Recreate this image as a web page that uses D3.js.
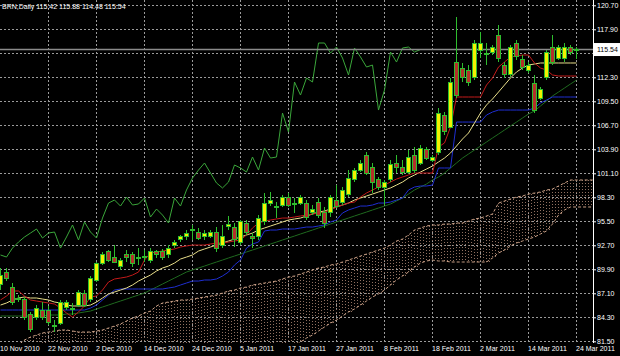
<!DOCTYPE html>
<html>
<head>
<meta charset="utf-8">
<script src="https://cdn.jsdelivr.net/npm/d3@7"></script>
<style>
body{margin:0;background:#000;}
svg{display:block;font-family:'Liberation Sans',Arial,sans-serif;}
</style>
</head>
<body>
<div class="box"></div>
<script>
// BRN daily, 10 Nov 2010 .. 24 Mar 2011 (97 bars), one bar per weekday
const title='BRN,Daily  115.42 115.88 114.48 115.54';
const tickIdx=[0,8,16,24,32,40,48,56,64,72,80,88,96];
const tickLabels=['10 Nov 2010','22 Nov 2010','2 Dec 2010','14 Dec 2010','24 Dec 2010','5 Jan 2011',
  '17 Jan 2011','27 Jan 2011','8 Feb 2011','18 Feb 2011','2 Mar 2011','14 Mar 2011','24 Mar 2011'];
const yTicks=[120.70,117.90,115.10,112.30,109.50,106.70,103.90,101.10,98.30,95.50,92.70,89.90,87.10,84.30,81.50];
const lastPrice=115.54;

const open=[88.07,89.58,87.83,86.43,86.32,84.57,84.22,85.15,85.15,83.40,
83.63,85.50,85.27,85.73,87.13,86.32,88.65,90.63,91.92,91.33,
90.17,91.57,91.57,91.22,91.33,90.98,91.92,91.92,91.57,92.73,
93.32,93.67,94.48,94.25,93.67,93.78,94.25,92.73,94.95,94.72,
92.97,95.30,93.67,93.67,95.42,97.63,97.17,97.40,98.22,97.63,
97.63,97.63,96.47,97.75,96.58,96.47,97.87,97.75,98.57,100.32,
101.48,103.23,101.83,100.32,99.50,100.32,102.30,101.83,101.25,103.23,
102.30,103.82,102.65,103.58,107.90,106.50,114.08,113.38,113.15,112.33,
115.48,115.02,115.25,117.23,113.73,112.57,116.30,114.32,113.15,111.63,
109.88,112.22,115.83,114.55,114.55,115.72,115.42];
const high=[90.05,90.05,88.30,86.90,86.67,84.92,85.73,86.08,85.62,83.98,
86.32,86.32,85.97,87.48,87.48,89.12,90.75,91.92,92.15,92.73,
91.22,92.15,91.92,92.38,92.15,92.38,92.15,92.27,92.73,93.32,
93.90,94.48,95.07,94.72,94.48,94.48,94.83,95.07,96.12,95.30,
95.65,95.65,94.13,96.23,98.80,98.92,97.75,98.57,98.80,98.22,
98.57,97.98,97.40,98.22,97.17,98.57,99.73,99.50,101.48,101.72,
102.65,103.58,102.30,100.67,100.32,102.65,103.23,102.65,103.82,104.17,
104.40,104.17,103.23,108.72,108.25,112.22,119.34,113.97,113.73,116.65,
117.58,116.30,116.07,118.40,114.08,116.07,116.65,114.90,114.08,112.57,
111.17,115.48,117.23,116.07,116.30,116.07,115.88];
const low=[87.48,88.53,85.73,86.08,83.98,82.58,83.98,83.98,83.40,82.58,
83.40,85.15,84.57,85.50,85.50,86.08,88.42,90.40,90.75,90.63,
89.82,90.75,90.17,90.40,90.75,90.63,91.22,90.98,91.22,92.38,
93.08,93.32,93.32,93.32,93.32,93.55,91.92,92.38,94.48,92.50,
92.73,93.90,92.38,93.32,95.07,97.28,95.88,97.17,97.17,96.47,
97.40,95.65,96.23,95.88,94.72,96.00,97.05,97.40,98.33,100.08,
101.25,100.90,98.80,99.15,97.40,100.08,101.13,100.90,101.02,101.13,
102.07,102.65,102.42,103.23,105.57,106.38,109.88,111.75,111.28,111.98,
114.55,113.73,114.90,114.08,112.22,112.33,114.32,113.15,112.80,108.13,
109.65,111.98,113.73,114.32,114.08,114.90,114.48];
const close=[89.23,88.77,86.08,86.55,84.33,82.82,85.27,84.33,83.75,83.28,
86.08,85.97,85.38,87.25,85.73,88.88,90.63,91.57,90.98,90.75,
90.98,91.22,90.63,91.33,91.45,91.92,91.57,91.33,92.38,93.08,
93.67,94.13,94.60,93.55,94.13,94.25,92.38,93.67,95.07,93.32,
95.42,94.25,93.55,95.88,97.63,97.98,97.28,98.33,97.40,97.52,
98.22,96.00,96.93,96.23,95.30,98.22,97.28,99.15,100.55,101.48,
102.30,101.13,99.97,99.39,100.08,102.07,101.72,101.25,103.00,101.48,
104.05,102.88,103.00,108.13,105.92,111.75,110.23,112.22,111.75,116.30,
116.30,115.13,115.83,114.55,112.57,115.72,114.67,113.50,113.73,108.48,
110.82,115.25,114.08,115.72,115.83,115.25,115.54];

// indicator lines, one value per bar
const tenkan=[86.32,86.78,87.37,87.37,86.78,86.32,86.20,86.08,85.97,85.85,
85.38,84.80,84.33,84.92,85.62,86.67,86.78,87.48,88.42,88.77,
88.88,89.00,89.23,89.58,90.98,91.80,91.92,92.03,92.15,92.27,
92.50,92.62,92.73,92.73,92.73,92.85,92.97,92.97,93.08,93.20,
93.32,93.90,94.72,95.30,95.53,95.65,95.77,95.88,95.88,96.00,
96.12,96.23,96.35,96.47,96.58,96.82,97.17,97.40,97.63,97.75,
98.33,98.80,99.15,99.50,99.73,100.08,100.43,100.67,100.90,101.13,
101.13,101.13,101.13,104.17,104.64,106.50,110.00,110.00,110.00,110.00,
110.00,111.40,112.22,113.50,114.08,114.67,114.78,114.90,114.90,113.97,
113.38,113.15,112.57,112.45,112.45,112.45,112.45];
const kijun=[85.15,85.15,85.15,85.15,85.15,85.15,85.15,85.15,85.15,85.15,
85.15,85.15,85.15,85.15,85.15,85.38,85.73,86.32,86.90,87.48,
87.60,87.60,87.60,87.60,87.60,87.60,87.60,87.60,87.72,87.83,
88.07,88.30,88.53,88.53,88.65,88.65,88.77,89.12,89.58,90.40,
90.98,92.38,92.85,93.08,94.37,94.48,94.48,94.60,94.60,94.60,
94.72,94.83,94.83,94.95,95.07,95.42,95.65,96.47,96.82,97.05,
97.28,97.28,97.40,97.63,97.63,97.75,97.98,98.22,99.15,99.50,
99.62,99.62,99.73,101.72,101.72,101.72,107.08,107.08,107.08,107.08,
107.08,107.90,108.25,108.48,108.48,108.48,108.48,108.48,108.48,108.72,
109.30,109.65,110.00,110.00,110.00,110.00,110.00];
const maFast=[85.73,85.97,86.32,86.55,86.67,86.55,86.55,86.43,86.32,86.08,
85.97,85.73,85.62,85.62,85.62,85.73,86.08,86.55,87.02,87.25,
87.48,87.72,88.07,88.53,88.88,89.23,89.70,90.05,90.28,90.63,
91.10,91.33,91.57,92.03,92.27,92.50,92.73,92.97,93.20,93.43,
93.67,93.90,94.13,94.48,94.72,94.95,95.18,95.42,95.65,95.77,
95.88,96.12,96.35,96.58,96.70,96.93,97.17,97.40,97.63,97.98,
98.22,98.45,98.68,98.92,99.15,99.39,99.73,100.08,100.55,100.90,
101.25,101.60,101.95,102.42,102.88,103.47,104.28,105.10,105.80,106.97,
108.13,109.07,109.77,110.58,111.40,112.22,112.92,113.38,113.73,113.85,
113.97,113.97,113.97,113.97,113.97,113.97,113.97];
const maSlow=[84.45,84.45,84.45,84.45,84.45,84.45,84.45,84.45,84.57,84.57,
84.57,84.68,84.68,84.80,84.92,85.03,85.27,85.50,85.73,85.97,
86.20,86.43,86.67,86.90,87.13,87.48,87.83,88.18,88.53,88.88,
89.23,89.58,89.82,90.05,90.28,90.52,90.75,90.98,91.22,91.45,
91.68,91.92,92.15,92.38,92.62,92.85,93.08,93.32,93.55,93.78,
94.02,94.25,94.48,94.72,94.95,95.18,95.42,95.65,95.88,96.12,
96.35,96.58,96.82,97.05,97.28,97.52,97.87,98.22,98.68,99.15,
99.50,99.85,100.32,100.67,101.13,101.72,102.30,102.88,103.35,103.82,
104.28,104.75,105.22,105.68,106.15,106.62,107.08,107.55,108.02,108.37,
108.95,109.53,110.12,110.58,111.05,111.52,111.98];
// cloud, already shifted forward (runs past the last bar)
const spanA=[81.07,81.07,81.07,81.07,81.65,82.00,82.23,82.47,82.58,82.70,
82.82,82.82,82.70,82.58,82.58,82.58,82.70,82.82,83.05,83.28,
83.52,83.87,84.22,84.45,84.80,85.03,85.62,85.97,86.08,86.20,
86.32,86.32,86.43,86.55,86.67,86.78,86.90,87.13,87.37,87.48,
87.72,87.83,88.07,88.18,88.30,88.42,88.53,88.77,89.00,89.12,
89.35,89.58,89.82,90.05,90.17,90.40,90.52,90.75,90.98,91.22,
91.45,91.68,91.92,92.15,92.38,92.73,93.20,93.43,93.90,94.48,
94.72,94.95,95.07,95.07,95.18,95.18,95.30,95.30,95.53,95.77,
95.88,96.12,96.35,97.63,97.87,98.10,98.33,98.45,98.68,98.80,
98.92,99.15,99.27,99.62,99.97,100.32,100.32,100.32,100.32,100.32];
const spanB=[79.90,79.90,79.90,79.90,79.90,79.90,79.90,79.90,79.90,79.90,
79.90,79.90,79.90,79.90,79.90,79.90,79.90,79.90,79.90,79.90,
79.90,79.90,79.90,79.90,79.90,79.90,79.90,79.90,79.90,79.90,
79.90,79.90,79.90,79.90,79.90,79.90,79.90,79.90,79.90,79.90,
79.90,79.90,79.90,79.90,79.90,79.90,79.90,79.90,80.48,80.95,
81.42,81.88,82.23,82.70,83.17,83.63,83.98,84.45,84.92,85.27,
85.73,86.20,86.67,87.02,87.48,88.07,88.65,89.12,89.58,90.17,
90.63,90.87,90.98,90.87,90.87,90.75,90.75,90.75,90.75,90.75,
90.75,90.75,91.22,91.80,92.15,92.62,92.97,93.20,93.43,93.67,
94.02,94.37,95.18,96.23,96.82,97.17,97.17,97.17,97.17,97.17];
const chikouShift=26;

const dims={width:620,height:356,right:593,bottom:342};
const svg=d3.select('.box')
    .append('svg')
    .attr('width',dims.width)
    .attr('height',dims.height);
svg.append('rect').attr('width',dims.width).attr('height',dims.height).attr('fill','#000');

const x=d3.scaleLinear().domain([0,96]).range([0.5,576.5]);
const y=d3.scaleLinear().domain([81.5,120.7]).range([341.3,5.3]);

svg.append('clipPath').attr('id','plot')
    .append('rect').attr('width',dims.right).attr('height',dims.bottom+1);

// grid
const grid=svg.append('g').attr('stroke','#9a9a9a').attr('stroke-dasharray','2,2')
    .attr('shape-rendering','crispEdges');
grid.selectAll('.h').data(yTicks).enter().append('line')
    .attr('x1',0).attr('x2',dims.right)
    .attr('y1',d=>Math.round(y(d))+0.5).attr('y2',d=>Math.round(y(d))+0.5);
grid.selectAll('.v').data(tickIdx.slice(1)).enter().append('line')
    .attr('x1',d=>x(d)).attr('x2',d=>x(d))
    .attr('y1',0).attr('y2',dims.bottom);

const graph=svg.append('g').attr('clip-path','url(#plot)');

// cloud: dotted columns between the spans + dashed edges
const cloud=graph.append('g');
const cols=cloud.append('g').attr('shape-rendering','crispEdges')
    .attr('stroke','#8f6f5f').attr('stroke-dasharray','1,2');
spanA.forEach((a,i)=>{
    [0,3].forEach(off=>{
        cols.append('line')
            .attr('x1',x(i)+off).attr('x2',x(i)+off)
            .attr('y1',Math.round(y(a))).attr('y2',Math.round(y(spanB[i])));
    });
});
const edge=d3.line().x((d,i)=>x(i)).y(d=>y(d));
[spanA,spanB].forEach(s=>{
    cloud.append('path').attr('d',edge(s)).attr('fill','none')
        .attr('stroke','#caa086').attr('stroke-dasharray','3,2');
});

// lines
const line=d3.line().x((d,i)=>x(i)).y(d=>y(d));
const chikou=close.slice(chikouShift);
[[maSlow,'#1f6a1f'],[kijun,'#1f2ed0'],[maFast,'#e8de8a'],[tenkan,'#c41a1a'],[chikou,'#3aa63a']]
    .forEach(([s,c])=>{
        graph.append('path').attr('d',line(s)).attr('fill','none')
            .attr('stroke',c).attr('stroke-width',1);
    });

// current price line
graph.append('line').attr('x1',0).attr('x2',dims.right)
    .attr('y1',y(lastPrice)).attr('y2',y(lastPrice))
    .attr('stroke','#8a8a8a').attr('stroke-width',1.5);

// candles
const candles=graph.append('g').attr('shape-rendering','crispEdges');
const bars=candles.selectAll('g').data(open.map((o,i)=>({i,o,h:high[i],l:low[i],c:close[i]})))
    .enter().append('g');
bars.append('line')
    .attr('x1',d=>x(d.i)).attr('x2',d=>x(d.i))
    .attr('y1',d=>y(d.h)).attr('y2',d=>y(d.l))
    .attr('stroke','#2ebd2e');
bars.append('rect')
    .attr('x',d=>x(d.i)-2)
    .attr('width',4)
    .attr('y',d=>y(Math.max(d.o,d.c)))
    .attr('height',d=>Math.max(1,Math.abs(y(d.o)-y(d.c))))
    .attr('fill',d=>d.c>=d.o?'#f2f200':'#b3312a')
    .attr('stroke','#2ebd2e');

// right axis
const yAxis=d3.axisRight(y).tickValues(yTicks).tickFormat(d3.format('.2f'))
    .tickSize(3).tickPadding(1);
const ga=svg.append('g').attr('transform',`translate(${dims.right},0)`).call(yAxis);
ga.select('.domain').remove();
ga.selectAll('line').attr('stroke','#fff');
ga.selectAll('text').attr('fill','#fff').attr('font-size',7).attr('font-family','Liberation Sans');
svg.append('line').attr('x1',dims.right+0.5).attr('x2',dims.right+0.5)
    .attr('y1',0).attr('y2',dims.bottom+1).attr('stroke','#fff');

// price tag (sits over the 115.10 label, as in the terminal)
const tag=svg.append('g').attr('transform',`translate(${dims.right+1},${y(lastPrice)})`);
tag.append('rect').attr('x',0).attr('y',-6.5).attr('width',26).attr('height',13).attr('fill','#fff');
tag.append('text').attr('x',3).attr('dy','0.32em').attr('font-size',7).attr('fill','#000').text(d3.format('.2f')(lastPrice));

// bottom axis
const xAxis=d3.axisBottom(x).tickValues(tickIdx).tickFormat((d,i)=>tickLabels[i]).tickSize(0).tickPadding(4);
const gx=svg.append('g').attr('transform',`translate(0,${dims.bottom})`).call(xAxis);
gx.select('.domain').remove();
gx.selectAll('text').attr('fill','#fff').attr('font-size',7).attr('text-anchor','start')
    .attr('dx',-1).attr('font-family','Liberation Sans');

svg.append('text').attr('x',2).attr('y',9).attr('font-size',7).attr('fill','#fff').text(title);
</script>
</body>
</html>
